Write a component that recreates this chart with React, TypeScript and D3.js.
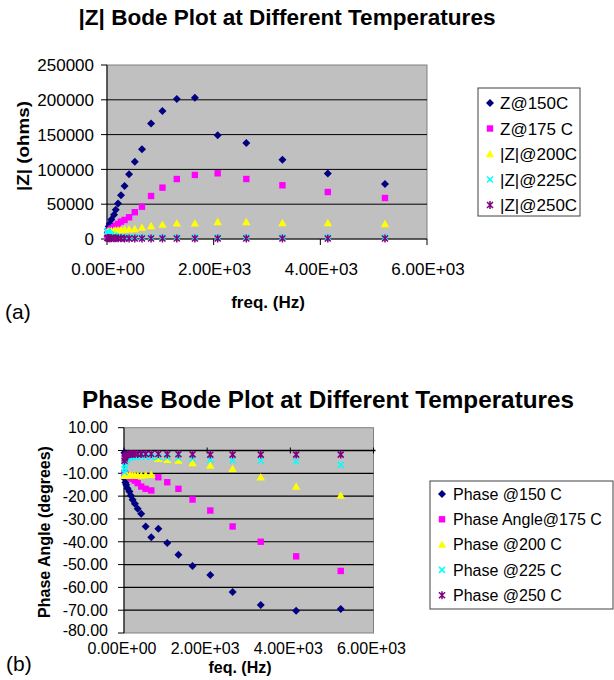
import * as React from 'react';
import * as d3 from 'd3';

// frequencies (Hz) shared by every series
const freqs = [10, 13, 21, 33, 52, 82, 131, 164, 208, 262, 329, 414, 521, 656, 826, 1040, 1309, 1648, 2075, 2612, 3289, 4140, 5212];

// |Z| (ohms)
const z150 = [4000, 9000, 14000, 18000, 22000, 28000, 35000, 42000, 51000, 63000, 76000, 93000, 111000, 129000, 166000, 184000, 201000, 203000, 149000, 138000, 114000, 94000, 79000];
const z175 = [5000, 7000, 9000, 11000, 13000, 15000, 17000, 19000, 21600, 24900, 27300, 31200, 38500, 46400, 61800, 73800, 86200, 92000, 94400, 86200, 77200, 67500, 58900];
const z200 = [9000, 9500, 10000, 10500, 11000, 11500, 12000, 12300, 12600, 13000, 13400, 13900, 14400, 16300, 18700, 20600, 22500, 22500, 24400, 24400, 23000, 23000, 21600];
const z225 = [11000, 10000, 9000, 8000, 7000, 6000, 5000, 4000, 3500, 3000, 2800, 2600, 2500, 2500, 2400, 2400, 2400, 2400, 2400, 2400, 2400, 2400, 2400];
const z250 = [1500, 1400, 1300, 1200, 1100, 1000, 1000, 900, 900, 900, 800, 800, 800, 800, 800, 700, 700, 700, 700, 700, 700, 700, 700];

// phase angle (degrees)
const p150 = [-1, -10, -12.5, -14, -15, -16.5, -18, -19.7, -21.6, -23.3, -25.5, -27.7, -33.3, -38, -34.3, -40.6, -45.7, -50.6, -54.6, -62, -67.7, -70.3, -69.5];
const p175 = [-10, -10, -10.5, -10.5, -11, -11, -11.5, -12, -12.5, -13.2, -14.3, -15.8, -16.8, -17.5, -11.7, -13.9, -16.8, -21.5, -26.3, -33.3, -40, -46.4, -52.8];
const p200 = [-11, -11, -11, -11, -11, -11, -11, -11, -11, -11, -11, -11, -10.8, -10.6, -3.6, -4.1, -4.4, -5.5, -6.6, -8, -11.7, -15.8, -19.7];
const p225 = [-9.5, -8, -6.5, -5, -4, -3.5, -3, -2.8, -2.7, -2.6, -2.6, -2.6, -2.7, -2.8, -2.8, -3, -3.2, -3.6, -4.1, -4.4, -4.5, -4.8, -6.3];
const p250 = [-4.5, -3.5, -3, -2.5, -2, -1.8, -1.6, -1.5, -1.5, -1.5, -1.5, -1.5, -1.5, -1.5, -1.5, -1.6, -1.6, -1.7, -1.8, -1.8, -1.8, -1.8, -1.8];

const zNames = ['Z@150C', 'Z@175 C', '|Z|@200C', '|Z|@225C', '|Z|@250C'];
const pNames = ['Phase @150 C', 'Phase Angle@175 C', 'Phase @200 C', 'Phase @225 C', 'Phase @250 C'];
const colors = ['#000080', '#ff00ff', '#ffff00', '#00ffff', '#800080'];
const shapes = ['diamond', 'square', 'triangle', 'x', 'star'];

const xTicks = [0, 2000, 4000, 6000];
const zTicks = [0, 50000, 100000, 150000, 200000, 250000];
const pTicks = [10, 0, -10, -20, -30, -40, -50, -60, -70, -80];

const FONT = '"Liberation Sans", Arial, sans-serif';

const sci = (v) => {
  if (v === 0) return '0.00E+00';
  const e = Math.floor(Math.log10(Math.abs(v)));
  const m = v / Math.pow(10, e);
  return `${m.toFixed(2)}E${e < 0 ? '-' : '+'}${String(Math.abs(e)).padStart(2, '0')}`;
};

const Marker = ({ shape, x, y, color }) => {
  switch (shape) {
    case 'diamond':
      return <path d={`M${x},${y - 4}L${x + 4},${y}L${x},${y + 4}L${x - 4},${y}Z`} fill={color} />;
    case 'square':
      return <rect x={x - 3.2} y={y - 3.2} width={6.4} height={6.4} fill={color} />;
    case 'triangle':
      return <path d={`M${x},${y - 4.2}L${x + 4.2},${y + 3.2}L${x - 4.2},${y + 3.2}Z`} fill={color} />;
    case 'x':
      return <path d={`M${x - 3},${y - 3}L${x + 3},${y + 3}M${x + 3},${y - 3}L${x - 3},${y + 3}`} stroke={color} strokeWidth={1.5} fill="none" />;
    default:
      // x with a vertical stroke through it
      return <path d={`M${x - 3},${y - 3}L${x + 3},${y + 3}M${x + 3},${y - 3}L${x - 3},${y + 3}M${x},${y - 4}L${x},${y + 4}`} stroke={color} strokeWidth={1.5} fill="none" />;
  }
};

const ZChart = () => {
  const x = d3.scaleLinear().domain([0, 6000]).range([107, 427]);
  const y = d3.scaleLinear().domain([0, 250000]).range([239, 65]);
  const series = [z150, z175, z200, z225, z250];
  return (
    <g>
      <text x={287} y={24.5} textAnchor="middle" fontWeight="bold" fontSize={22.5} textLength={417} lengthAdjust="spacingAndGlyphs">|Z| Bode Plot at Different Temperatures</text>
      <rect x={x(0)} y={y(250000)} width={x(6000) - x(0)} height={y(0) - y(250000)} fill="#c0c0c0" stroke="#808080" />
      {zTicks.filter(t => t > 0 && t < 250000).map(t => (
        <line key={t} x1={x(0)} x2={x(6000)} y1={y(t)} y2={y(t)} stroke="#000" />
      ))}
      <line x1={x(0)} x2={x(0)} y1={y(0)} y2={y(250000)} stroke="#000" />
      <line x1={x(0)} x2={x(6000)} y1={y(0)} y2={y(0)} stroke="#000" />
      {zTicks.map(t => (
        <g key={t}>
          <line x1={x(0) - 6} x2={x(0)} y1={y(t)} y2={y(t)} stroke="#000" />
          <text x={94} y={y(t)} dy="0.36em" textAnchor="end" fontSize={17}>{d3.format('d')(t)}</text>
        </g>
      ))}
      {xTicks.map(t => (
        <g key={t}>
          <line x1={x(t)} x2={x(t)} y1={y(0)} y2={y(0) + 6} stroke="#000" />
          <text x={x(t) + 1} y={275} textAnchor="middle" fontSize={17}>{sci(t)}</text>
        </g>
      ))}
      {series.map((vals, si) => (
        <g key={si}>
          {vals.map((v, i) => (
            <Marker key={i} shape={shapes[si]} x={x(freqs[i])} y={y(v)} color={colors[si]} />
          ))}
        </g>
      ))}
      <text x={268} y={308} textAnchor="middle" fontWeight="bold" fontSize={17}>freq. (Hz)</text>
      <text transform="translate(29,146) rotate(-90)" textAnchor="middle" fontWeight="bold" fontSize={17} textLength={90} lengthAdjust="spacingAndGlyphs">|Z| (ohms)</text>
      <text x={5} y={319} fontSize={21}>(a)</text>
      <rect x={478} y={88} width={102} height={128} fill="#fff" stroke="#404040" />
      {zNames.map((n, i) => (
        <g key={n}>
          <Marker shape={shapes[i]} x={490} y={103 + i * 25.5} color={colors[i]} />
          <text x={500} y={103 + i * 25.5} dy="0.36em" fontSize={17}>{n}</text>
        </g>
      ))}
    </g>
  );
};

const PhaseChart = () => {
  const x = d3.scaleLinear().domain([0, 6000]).range([124, 373.5]);
  const y = d3.scaleLinear().domain([-80, 10]).range([633, 427.7]);
  const series = [p150, p175, p200, p225, p250];
  return (
    <g>
      <text x={328} y={408} textAnchor="middle" fontWeight="bold" fontSize={24} textLength={492} lengthAdjust="spacingAndGlyphs">Phase Bode Plot at Different Temperatures</text>
      <rect x={x(0)} y={y(10)} width={x(6000) - x(0)} height={y(-80) - y(10)} fill="#c0c0c0" stroke="#808080" />
      {pTicks.filter(t => t < 0 && t > -80).map(t => (
        <line key={t} x1={x(0)} x2={x(6000)} y1={y(t)} y2={y(t)} stroke="#000" strokeWidth={1.2} />
      ))}
      <line x1={x(0)} x2={x(0)} y1={y(-80)} y2={y(10)} stroke="#000" />
      <line x1={x(0)} x2={x(6000) + 2} y1={y(0)} y2={y(0)} stroke="#000" strokeWidth={1.5} />
      {xTicks.map(t => (
        <line key={t} x1={x(t)} x2={x(t)} y1={y(0) - 3} y2={y(0) + 3} stroke="#000" />
      ))}
      {pTicks.map(t => (
        <g key={t}>
          <line x1={x(0) - 6} x2={x(0)} y1={y(t)} y2={y(t)} stroke="#000" />
          <text x={108} y={y(t)} dy={t === -80 ? '0.2em' : '0.36em'} textAnchor="end" fontSize={16}>{t.toFixed(2)}</text>
        </g>
      ))}
      {xTicks.map(t => (
        <text key={t} x={x(t) - 2} y={654} textAnchor="middle" fontSize={16}>{sci(t)}</text>
      ))}
      {series.map((vals, si) => (
        <g key={si}>
          {vals.map((v, i) => (
            <Marker key={i} shape={shapes[si]} x={x(freqs[i])} y={y(v)} color={colors[si]} />
          ))}
        </g>
      ))}
      <text x={240} y={673} textAnchor="middle" fontWeight="bold" fontSize={16}>feq. (Hz)</text>
      <text transform="translate(50,532) rotate(-90)" textAnchor="middle" fontWeight="bold" fontSize={16}>Phase Angle (degrees)</text>
      <text x={6} y={671} fontSize={21}>(b)</text>
      <rect x={430} y={481} width={183} height={128} fill="#fff" stroke="#404040" />
      {pNames.map((n, i) => (
        <g key={n}>
          <Marker shape={shapes[i]} x={442} y={494 + i * 25.3} color={colors[i]} />
          <text x={453} y={494 + i * 25.3} dy="0.36em" fontSize={16}>{n}</text>
        </g>
      ))}
    </g>
  );
};

export default function App() {
  return (
    <svg width={614} height={680} style={{ position: 'absolute', left: 0, top: 0, background: '#fff' }} fontFamily={FONT}>
      <rect width={614} height={680} fill="#fff" />
      <ZChart />
      <PhaseChart />
    </svg>
  );
}
